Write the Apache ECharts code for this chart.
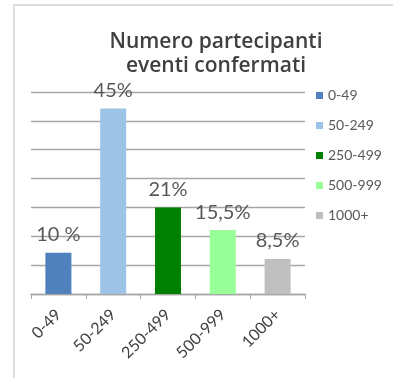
<!DOCTYPE html>
<html>
<head>
<meta charset="utf-8">
<script src="https://cdn.jsdelivr.net/npm/echarts@6/dist/echarts.min.js"></script>
<style>
  html, body { margin: 0; padding: 0; background: #fff; }
  #chart { width: 393px; height: 378px; }
</style>
</head>
<body>
<div id="chart"></div>
<script>
// Participant ranges and the share of confirmed events in each
const categories = ['0-49', '50-249', '250-499', '500-999', '1000+'];
const shares = [10, 45, 21, 15.5, 8.5];
const shareLabels = ['10 %', '45%', '21%', '15,5%', '8,5%'];
const colors = ['#4f81bd', '#9dc3e6', '#008000', '#99ff99', '#bfbfbf'];

const FONT = 'Lato, "Open Sans", sans-serif';
const TITLE_FONT = '"Open Sans", Lato, sans-serif';

// One series per range so each gets its own legend entry
const series = categories.map((name, i) => ({
  name: name,
  type: 'bar',
  barWidth: 26,
  barGap: '-100%',
  itemStyle: { color: colors[i] },
  data: categories.map((c, j) => (j === i ? shares[i] : '-')),
  label: {
    show: true,
    position: 'top',
    distance: 8,
    color: '#595959',
    fontFamily: FONT,
    fontSize: 20,
    formatter: () => shareLabels[i]
  }
}));

const chart = echarts.init(document.getElementById('chart'));
chart.setOption({
  animation: false,
  textStyle: { fontFamily: FONT },
  title: {
    text: 'Numero partecipanti\neventi confermati',
    left: 211,
    top: 25,
    textAlign: 'center',
    textStyle: {
      fontFamily: TITLE_FONT,
      fontSize: 21,
      fontWeight: 600,
      color: '#404040',
      lineHeight: 24
    }
  },
  legend: {
    orient: 'vertical',
    left: 311,
    top: 83,
    itemWidth: 7,
    itemHeight: 7,
    itemGap: 15,
    icon: 'rect',
    textStyle: { fontFamily: FONT, fontSize: 14, color: '#595959', lineHeight: 15, height: 15 },
    data: categories
  },
  grid: { left: 31, right: 88, top: 92, bottom: 84 },
  xAxis: {
    type: 'category',
    data: categories,
    axisLine: { lineStyle: { color: '#a6a6a6', width: 1.3 } },
    axisTick: { show: true, length: 5, lineStyle: { color: '#a6a6a6' } },
    axisLabel: {
      interval: 0,
      rotate: 45,
      margin: 18,
      fontFamily: FONT,
      fontSize: 16,
      color: '#404040'
    }
  },
  yAxis: {
    type: 'value',
    min: 0,
    max: 49,
    interval: 7,
    axisLine: { show: false },
    axisTick: { show: false },
    axisLabel: { show: false },
    splitLine: { lineStyle: { color: '#a6a6a6', width: 1.3 } }
  },
  graphic: [{
    type: 'rect',
    z: -1,
    shape: { x: 14, y: 5, width: 400, height: 400 },
    style: { fill: 'none', stroke: '#d4d4d4', lineWidth: 1.5 }
  }],
  series: series
});
</script>
</body>
</html>
